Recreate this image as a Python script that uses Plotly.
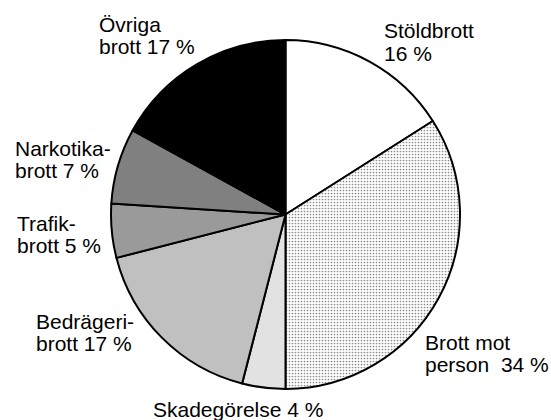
import plotly.graph_objects as go

categories = ["Stöldbrott", "Brott mot person", "Skadegörelse", "Bedrägeribrott",
              "Trafikbrott", "Narkotikabrott", "Övriga brott"]
values = [16, 34, 4, 17, 5, 7, 17]
label_lines = [["Stöldbrott", "16 %"], ["Brott mot", "person\u00a0\u00a034 %"], ["Skadegörelse 4 %"],
               ["Bedrägeri-", "brott 17 %"], ["Trafik-", "brott 5 %"], ["Narkotika-", "brott 7 %"],
               ["Övriga", "brott 17 %"]]

colors = ["#ffffff", "#ffffff", "#e2e2e2", "#c0c0c0", "#9a9a9a", "#808080", "#000000"]
patterns = ["", ".", "", "", "", "", ""]

W, H = 551, 420
cx0, cx1, cy0, cy1 = 111, 460, 40, 389

fig = go.Figure(go.Pie(
    labels=categories, values=values, sort=False, direction="clockwise", rotation=0,
    textinfo="none", hoverinfo="label+percent",
    marker=dict(colors=colors, line=dict(color="#000000", width=2),
                pattern=dict(shape=patterns, fgcolor="#8a8a8a", bgcolor="#ffffff",
                             size=3, solidity=0.25)),
    domain=dict(x=[cx0 / W, cx1 / W], y=[1 - cy1 / H, 1 - cy0 / H]),
    showlegend=False,
))

FS = 21
LINE = 22
# label anchor positions (pixels): left x, first-line baseline y
label_pos = [(383, 38), (424, 349), (152, 416), (35, 328), (16, 230), (14, 155), (98, 31)]
for lines, (x, yb) in zip(label_lines, label_pos):
    for i, t in enumerate(lines):
        yc = yb + i * LINE - 7
        fig.add_annotation(x=x / W, y=1 - yc / H, xref="paper", yref="paper", text=t,
                           showarrow=False, xanchor="left", yanchor="middle", align="left",
                           borderpad=0,
                           font=dict(family="Liberation Sans, Arial", size=FS, color="#000"))

fig.update_layout(width=W, height=H, margin=dict(l=0, r=0, t=0, b=0),
                  paper_bgcolor="#ffffff", plot_bgcolor="#ffffff")
fig.write_html("out.html", config={"displayModeBar": False},
               post_script="document.body.style.margin='0';")
